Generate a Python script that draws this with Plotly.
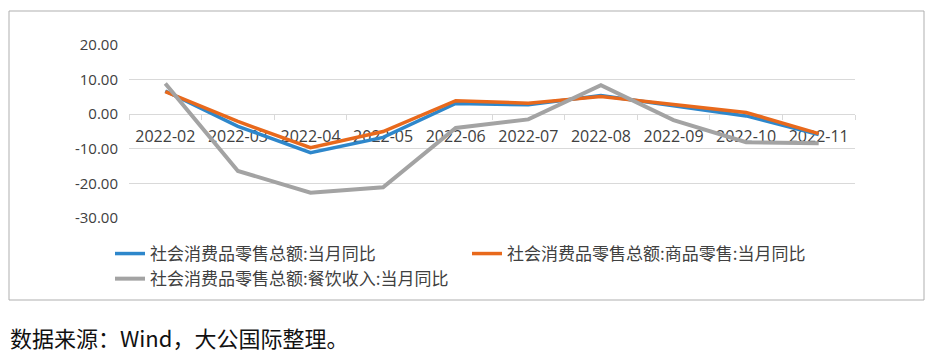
import plotly.graph_objects as go

months = ["2022-02", "2022-03", "2022-04", "2022-05", "2022-06",
          "2022-07", "2022-08", "2022-09", "2022-10", "2022-11"]
total_yoy = [6.7, -3.5, -11.1, -6.7, 3.1, 2.7, 5.4, 2.5, -0.5, -5.9]
goods_yoy = [6.5, -2.1, -9.7, -5.0, 3.9, 3.2, 5.1, 2.9, 0.5, -5.6]
catering_yoy = [8.9, -16.4, -22.7, -21.1, -4.0, -1.5, 8.4, -1.7, -8.1, -8.4]

names = ["社会消费品零售总额:当月同比",
         "社会消费品零售总额:商品零售:当月同比",
         "社会消费品零售总额:餐饮收入:当月同比"]
y_ticks = [20, 10, 0, -10, -20, -30]

# page pixels = figure pixels + 8 (browser body margin)
OFF = 8
W, H = 937, 355
L = 129 - OFF
T = 45 - OFF
pw = 855 - 129
ph = 218 - 45
R = W - L - pw
B = H - T - ph

def px(x):
    return (x - OFF - L) / pw

def py(y):
    return (T + ph - (y - OFF)) / ph

fig = go.Figure()
colors = ["#2E87CB", "#E8691C", "#A3A3A3"]
widths = [3.5, 3.5, 4]
for vals, nm, c, w in zip([total_yoy, goods_yoy, catering_yoy], names, colors, widths):
    fig.add_trace(go.Scatter(x=months, y=vals, mode="lines", name=nm,
                             line=dict(color=c, width=w)))

fig.update_layout(
    width=W, height=H,
    margin=dict(l=L, r=R, t=T, b=B, autoexpand=False),
    paper_bgcolor="white", plot_bgcolor="white",
    font=dict(family="Open Sans, Noto Sans CJK SC", color="#404040"),
    showlegend=True,
    legend=dict(orientation="h", x=px(110), y=py(236), xanchor="left", yanchor="top",
                entrywidth=312, entrywidthmode="pixels",
                font=dict(family="Noto Sans CJK SC", size=17, color="#404040"),
                bgcolor="rgba(0,0,0,0)", tracegroupgap=0),
    xaxis=dict(type="category", anchor="free", position=0.6,
               showline=True, linecolor="#D9D9D9", linewidth=1,
               ticks="outside", tickson="boundaries", ticklen=5, tickcolor="#D9D9D9",
               ticklabelstandoff=8,
               showgrid=False, layer="below traces",
               tickfont=dict(family="Open Sans", size=16, color="#404040"),
               range=[-0.5, 9.5]),
    yaxis=dict(range=[-30, 20], tickvals=y_ticks,
               ticktext=[f"{v:.2f}" for v in y_ticks],
               showgrid=True, gridcolor="#D9D9D9", gridwidth=1,
               zeroline=False, showline=False, ticks="", ticklen=0,
               ticklabelstandoff=10,
               tickfont=dict(family="Open Sans", size=15, color="#404040"),
               layer="below traces"),
)

fig.add_shape(type="rect", xref="paper", yref="paper",
              x0=px(9), x1=px(924), y0=py(300), y1=py(11),
              line=dict(color="#AFAFAF", width=1), layer="below")

fig.add_annotation(xref="paper", yref="paper", x=px(8), y=py(337),
                   xanchor="left", yanchor="middle", showarrow=False,
                   text="数据来源：Wind，大公国际整理。",
                   font=dict(family="Noto Sans CJK SC", size=22, color="#111111"))

fig.write_html("out.html")
